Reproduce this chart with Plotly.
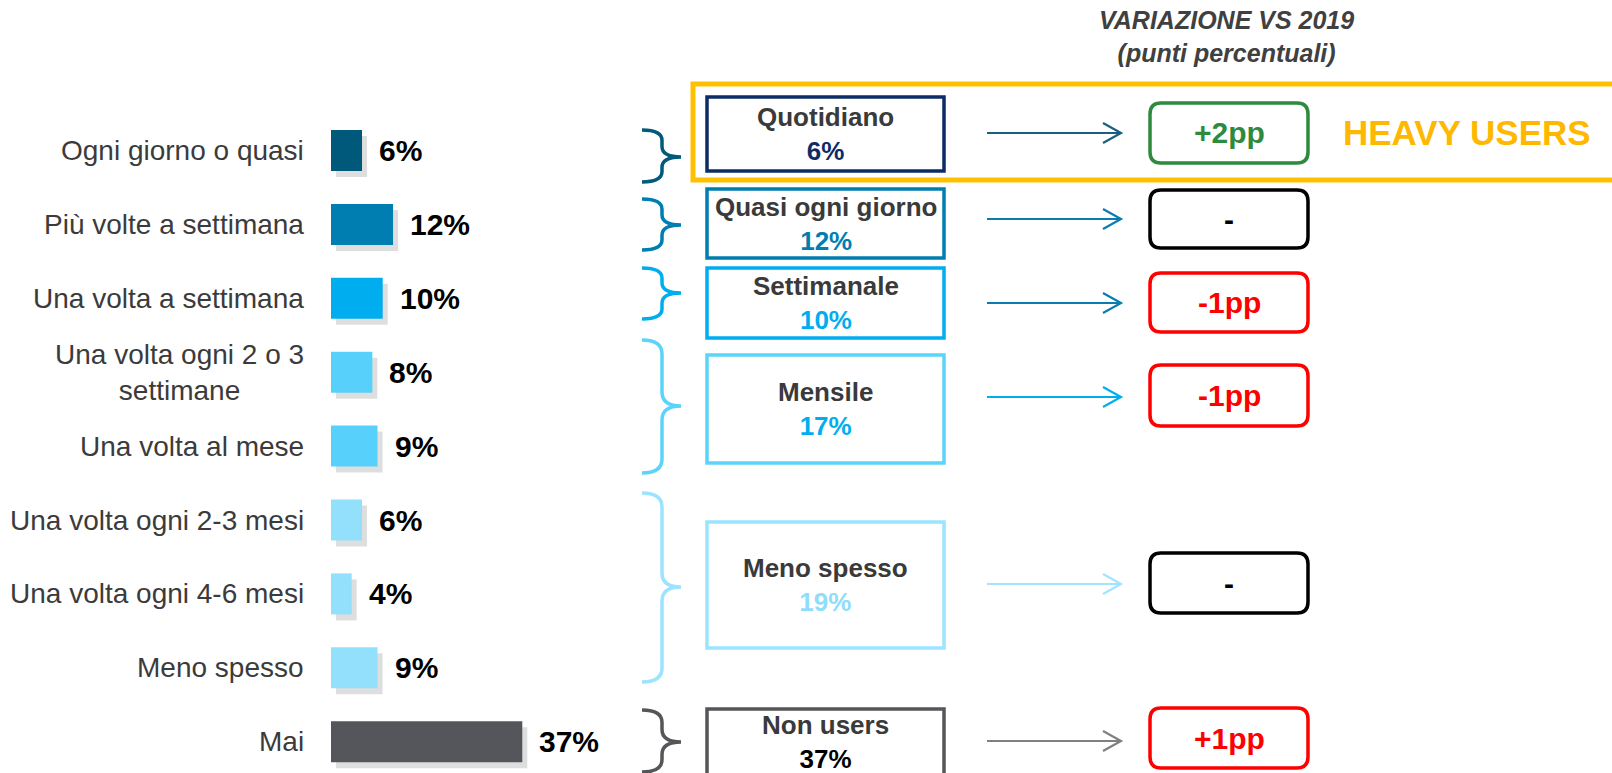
import plotly.graph_objects as go

W, H = 1612, 773
FONT = "Liberation Sans, Arial, sans-serif"

# ---------------- data ----------------
categories = [
    "Ogni giorno o quasi",
    "Più volte a settimana",
    "Una volta a settimana",
    "Una volta ogni 2 o 3<br>settimane",
    "Una volta al mese",
    "Una volta ogni 2-3 mesi",
    "Una volta ogni 4-6 mesi",
    "Meno spesso",
    "Mai",
]
values = [6, 12, 10, 8, 9, 6, 4, 9, 37]
bar_colors = ["#00587A", "#007EB1", "#00AEEF", "#57D1FB", "#57D1FB",
              "#93E0FD", "#93E0FD", "#93E0FD", "#55565B"]

group_names = ["Quotidiano", "Quasi ogni giorno", "Settimanale", "Mensile",
               "Meno spesso", "Non users"]
group_members = [[0], [1], [2], [3, 4], [5, 6, 7], [8]]
group_values = [sum(values[i] for i in m) for m in group_members]
group_border = ["#0D2B66", "#007EB1", "#00AEEF", "#5BD4FB", "#9BE3FE", "#555659"]
group_value_color = ["#0D2B66", "#007EB1", "#00AEEF", "#00AEEF", "#8FDDFB", "#000000"]
brace_colors = ["#005A7C", "#007EB1", "#00AEEF", "#5BD4FB", "#9BE3FE", "#555659"]
arrow_colors = ["#1A5E80", "#0A7DB0", "#0A7DB0", "#00AEEF", "#A0E4FF", "#808080"]

changes = ["+2pp", "-", "-1pp", "-1pp", "-", "+1pp"]
change_colors = ["#2E8B3E", "#000000", "#FF0000", "#FF0000", "#000000", "#FF0000"]

title_lines = ["VARIAZIONE VS 2019", "(punti percentuali)"]
highlight_label = "HEAVY USERS"

# ---------------- layout geometry (pixels) ----------------
BAR_X0 = 331          # pixel where 0% sits
PX_PER_PCT = 5.17
X_MAX = 60
ROW0, ROW_STEP = 150.5, 73.9

box_y = [(97, 171), (189, 258), (268, 338), (355, 463), (522, 648), (709, 776)]
arrow_y = [133, 219, 303, 397, 584, 741]
var_y = [(103, 163), (190, 248), (273, 332), (365, 426), (553, 613), (708, 768)]
brace_y = [(130, 182, 157), (199, 250, 225), (268, 319, 293),
           (340, 473, 406), (493, 682, 587), (710, 772, 742)]


def px(x):
    return x / W


def py(y):
    return 1 - y / H


def P(x, y):
    return f"{px(x):.5f},{py(y):.5f}"


fig = go.Figure()

# shadow bars (base axes, slightly shifted ranges)
dx = 5 / PX_PER_PCT
dy = 6 / ROW_STEP
y_top = -ROW0 / ROW_STEP
y_bot = y_top + H / ROW_STEP
fig.add_trace(go.Bar(
    y=categories, x=values, orientation="h", width=0.555,
    marker=dict(color="rgba(0,0,0,0.13)", line=dict(width=0)),
    xaxis="x", yaxis="y", hoverinfo="skip", showlegend=False,
))
fig.add_trace(go.Bar(
    y=categories, x=values, orientation="h", width=0.555,
    marker=dict(color=bar_colors, line=dict(width=0)),
    xaxis="x2", yaxis="y2", showlegend=False,
))

dom = [BAR_X0 / W, (BAR_X0 + X_MAX * PX_PER_PCT) / W]
axis_common = dict(showgrid=False, zeroline=False, showticklabels=False,
                   showline=False, ticks="")
fig.update_layout(
    xaxis=dict(domain=dom, range=[-dx, X_MAX - dx], **axis_common),
    yaxis=dict(domain=[0, 1], range=[y_bot - dy, y_top - dy], type="category",
               categoryorder="array", categoryarray=categories, **axis_common),
    xaxis2=dict(domain=dom, range=[0, X_MAX], overlaying="x", anchor="y2", **axis_common),
    yaxis2=dict(domain=[0, 1], range=[y_bot, y_top], type="category", overlaying="y",
                anchor="x2", categoryorder="array", categoryarray=categories, **axis_common),
)

annotations = []
# category labels and values
for cat, v in zip(categories, values):
    annotations.append(dict(
        x=px(306), xref="paper", y=cat, yref="y2", xanchor="right", yanchor="middle",
        text=cat, showarrow=False, align="center",
        font=dict(family=FONT, size=28, color="#3B3B3B")))
    annotations.append(dict(
        x=v, xref="x2", y=cat, yref="y2", xanchor="left", yanchor="middle", xshift=15,
        text=f"<b>{v}%</b>", showarrow=False,
        font=dict(family=FONT, size=30, color="#000000")))

shapes = []
# yellow highlight box
shapes.append(dict(type="rect", xref="paper", yref="paper",
                   x0=px(693), x1=px(1625), y0=py(84), y1=py(180),
                   line=dict(color="#FFC000", width=5), fillcolor="rgba(0,0,0,0)"))

BX0, BX1 = 707, 944
VX0, VX1 = 1150, 1308
AX0, AX1 = 987, 1121
for i, name in enumerate(group_names):
    # brace
    t, b, m = brace_y[i]
    x0, xm, xt = 642, 662, 681
    r = min(14, (b - t) / 5)
    path = (f"M {P(x0, t)} Q {P(xm, t)} {P(xm, t + r)} L {P(xm, m - r)} "
            f"Q {P(xm, m)} {P(xt, m)} Q {P(xm, m)} {P(xm, m + r)} "
            f"L {P(xm, b - r)} Q {P(xm, b)} {P(x0, b)}")
    shapes.append(dict(type="path", xref="paper", yref="paper", path=path,
                       line=dict(color=brace_colors[i], width=3.5)))
    # group box
    y0, y1 = box_y[i]
    shapes.append(dict(type="rect", xref="paper", yref="paper",
                       x0=px(BX0), x1=px(BX1), y0=py(y0), y1=py(y1),
                       line=dict(color=group_border[i], width=3.5),
                       fillcolor="white"))
    annotations.append(dict(
        x=px((BX0 + BX1) / 2), y=py((y0 + min(y1, 773)) / 2 if i < 5 else 742),
        xref="paper", yref="paper", xanchor="center", yanchor="middle",
        text=f"<b>{name}</b><br><b><span style='color:{group_value_color[i]}'>{group_values[i]}%</span></b>",
        showarrow=False, align="center",
        font=dict(family=FONT, size=26, color="#3A3A3A")))
    # arrow
    ay = arrow_y[i]
    shapes.append(dict(type="line", xref="paper", yref="paper",
                       x0=px(AX0), x1=px(AX1), y0=py(ay), y1=py(ay),
                       line=dict(color=arrow_colors[i], width=2.2)))
    shapes.append(dict(type="path", xref="paper", yref="paper",
                       path=f"M {P(AX1 - 18, ay - 10)} L {P(AX1, ay)} L {P(AX1 - 18, ay + 10)}",
                       line=dict(color=arrow_colors[i], width=2.2)))
    # variation box (rounded)
    v0, v1 = var_y[i]
    rr = 11
    path = (f"M {P(VX0 + rr, v0)} L {P(VX1 - rr, v0)} Q {P(VX1, v0)} {P(VX1, v0 + rr)} "
            f"L {P(VX1, v1 - rr)} Q {P(VX1, v1)} {P(VX1 - rr, v1)} "
            f"L {P(VX0 + rr, v1)} Q {P(VX0, v1)} {P(VX0, v1 - rr)} "
            f"L {P(VX0, v0 + rr)} Q {P(VX0, v0)} {P(VX0 + rr, v0)} Z")
    shapes.append(dict(type="path", xref="paper", yref="paper", path=path,
                       line=dict(color=change_colors[i], width=3.5),
                       fillcolor="white"))
    annotations.append(dict(
        x=px((VX0 + VX1) / 2), y=py((v0 + v1) / 2), xref="paper", yref="paper",
        xanchor="center", yanchor="middle", text=f"<b>{changes[i]}</b>",
        showarrow=False, font=dict(family=FONT, size=30, color=change_colors[i])))

# title
annotations.append(dict(
    x=px(1226), y=py(37), xref="paper", yref="paper", xanchor="center", yanchor="middle",
    text="<br>".join(f"<b><i>{t}</i></b>" for t in title_lines), showarrow=False,
    align="center", font=dict(family=FONT, size=25, color="#404040")))
# heavy users label
annotations.append(dict(
    x=px(1467), y=py(133), xref="paper", yref="paper", xanchor="center", yanchor="middle",
    text=f"<b>{highlight_label}</b>", showarrow=False,
    font=dict(family=FONT, size=35, color="#FFB800")))

fig.update_layout(
    width=W, height=H, margin=dict(l=0, r=0, t=0, b=0),
    paper_bgcolor="white", plot_bgcolor="rgba(0,0,0,0)",
    barmode="overlay", showlegend=False,
    annotations=annotations, shapes=shapes,
    font=dict(family=FONT),
)

fig.write_html("out.html", config={"displayModeBar": False},
               post_script="document.body.style.margin='0';document.body.style.overflow='hidden';")
